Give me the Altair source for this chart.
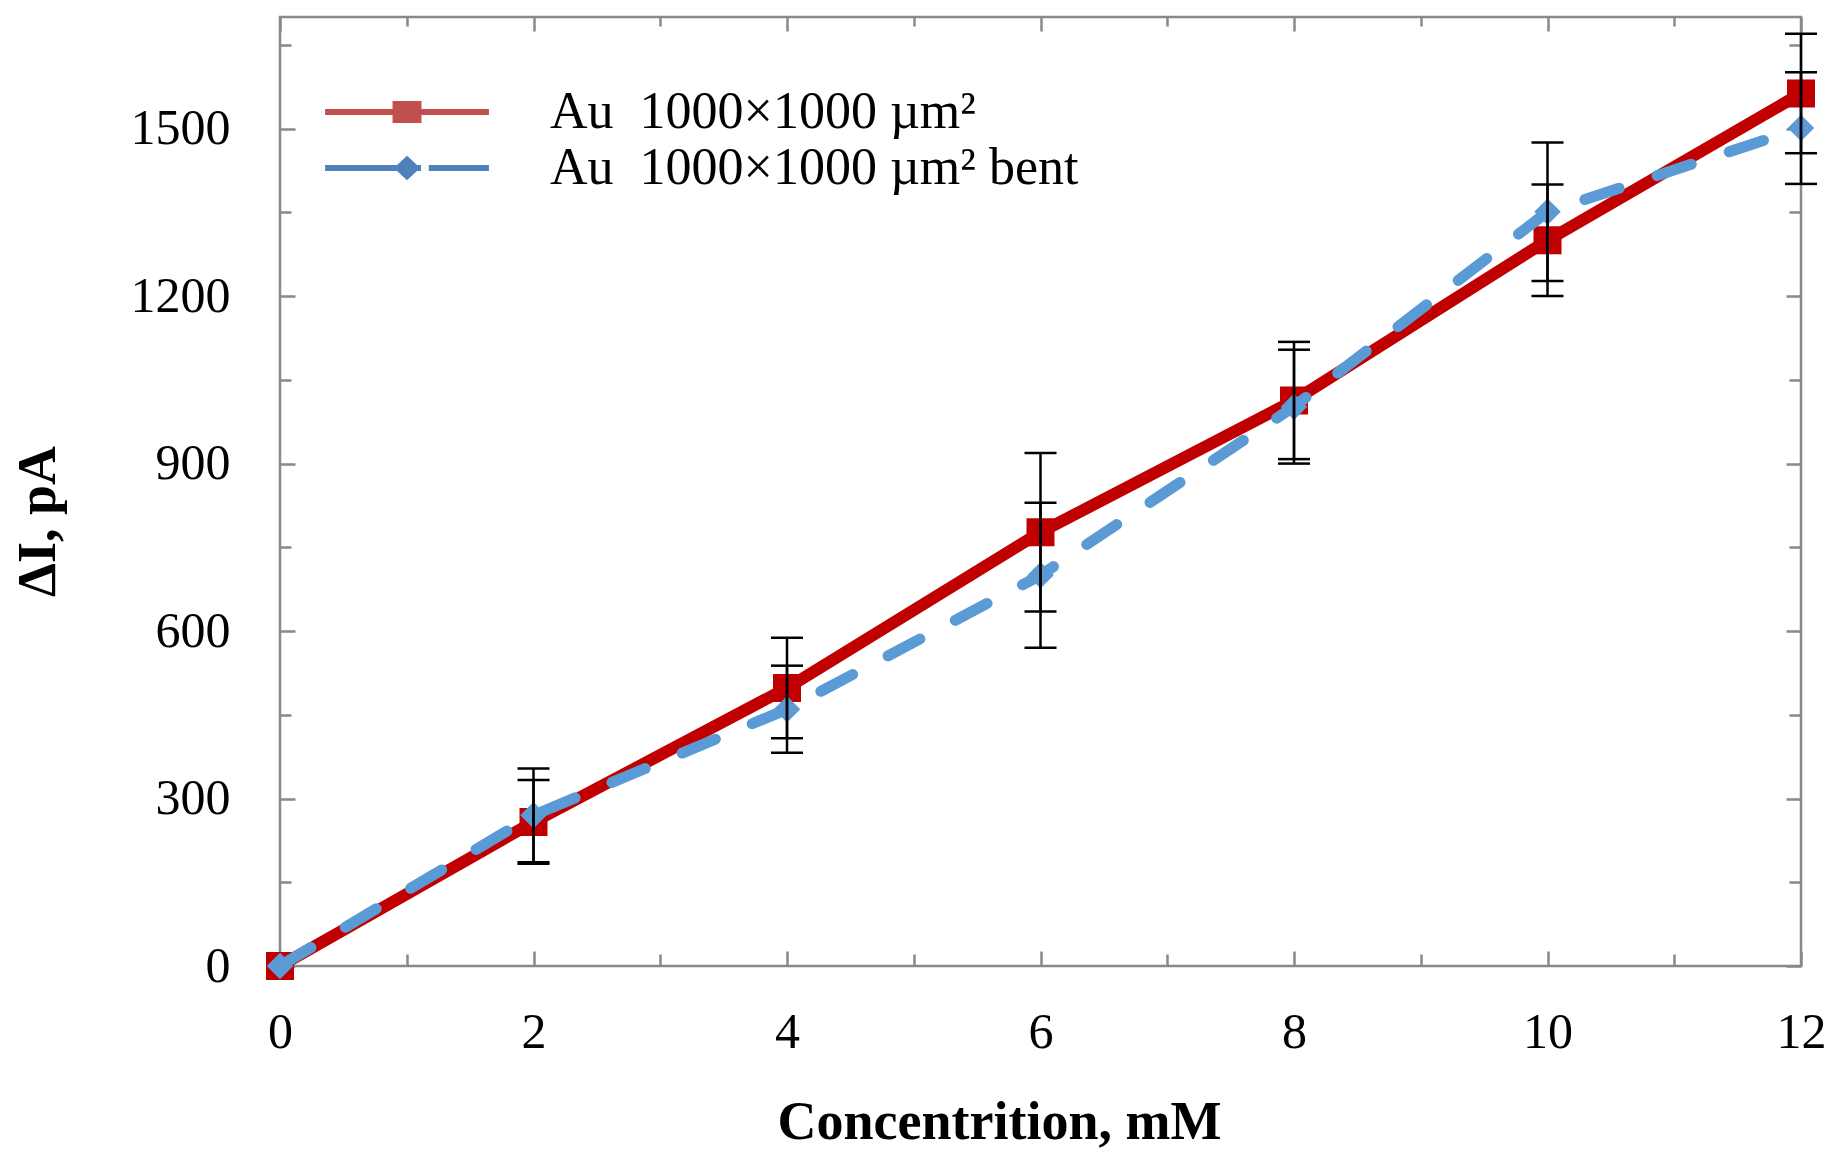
import pandas as pd
import altair as alt

# values
conc = [0, 2, 4, 6, 8, 10, 12]
au = [0, 258, 498, 777, 1013, 1300, 1563]
au_err = [0, 75, 90, 142, 105, 100, 107]
bent = [0, 270, 460, 700, 1002, 1351, 1501]
bent_err = [0, 84, 78, 130, 102, 124, 100]
series_names = ["Au\u00a0 1000\u00d71000 \u00b5m\u00b2",
                "Au\u00a0 1000\u00d71000 \u00b5m\u00b2 bent"]

x_major = [0, 2, 4, 6, 8, 10, 12]
x_minor = [1, 3, 5, 7, 9, 11]
y_major = [0, 300, 600, 900, 1200, 1500]
y_minor = [150, 450, 750, 1050, 1350, 1650]

FONT = "Liberation Serif"
GRAY = "#898989"
RED = "#C00000"
BLUE = "#5B9BD5"

au_df = pd.DataFrame({"conc": conc, "val": au, "err": au_err})
bent_df = pd.DataFrame({"conc": conc, "val": bent, "err": bent_err})
err_df = pd.concat([au_df, bent_df])
err_df = err_df[err_df["err"] > 0].copy()
err_df["lo"] = err_df["val"] - err_df["err"]
err_df["hi"] = err_df["val"] + err_df["err"]
caps_df = pd.concat([
    err_df[["conc", "lo"]].rename(columns={"lo": "y"}),
    err_df[["conc", "hi"]].rename(columns={"hi": "y"}),
])
leg_df = pd.DataFrame({"series": series_names})

x_scale = alt.Scale(domain=[0, 12], nice=False, zero=False)
y_scale = alt.Scale(domain=[0, 1700], nice=False)


def tick_axis(orient, values, size):
    # inward ticks: push the axis inside the frame and let ticks point back out
    return alt.Axis(orient=orient, values=values, labels=False, domain=False,
                    grid=False, ticks=True, tickSize=size, tickColor=GRAY,
                    tickWidth=2.5, offset=-size, title=None)


x_label_axis = alt.Axis(
    orient="bottom", values=x_major, format="d", grid=False, domain=False,
    ticks=False, tickSize=0, labelFont=FONT, labelFontSize=50,
    labelColor="black", labelPadding=81, labelBaseline="alphabetic",
    labelFlush=False, labelOverlap=False,
    title="Concentrition, mM", titleFont=FONT, titleFontSize=54,
    titleFontWeight="bold", titleColor="black", titleX=719, titleY=172,
    titleBaseline="alphabetic", titleAlign="center")

y_label_axis = alt.Axis(
    orient="left", values=y_major, format="d", grid=False, domain=False,
    ticks=False, tickSize=0, labelFont=FONT, labelFontSize=50,
    labelColor="black", labelPadding=50, labelFlush=False, labelOverlap=False,
    title="\u0394I, pA", titleFont=FONT, titleFontSize=54,
    titleFontWeight="bold", titleColor="black", titleX=-242, titleY=504,
    titleAngle=270, titleBaseline="middle", titleAlign="center")

red_line = alt.Chart(au_df).mark_line(color=RED, strokeWidth=12).encode(
    x=alt.X("conc:Q", scale=x_scale, axis=x_label_axis),
    y=alt.Y("val:Q", scale=y_scale, axis=y_label_axis),
)

red_pts = alt.Chart(au_df).mark_square(size=784, color=RED, opacity=1).encode(
    x=alt.X("conc:Q", scale=x_scale, axis=tick_axis("bottom", x_major, 15)),
    y=alt.Y("val:Q", scale=y_scale, axis=tick_axis("left", y_major, 15)),
)

blue_line = alt.Chart(bent_df).mark_line(
    color=BLUE, strokeWidth=11, strokeDash=[36, 40], strokeCap="round"
).encode(
    x=alt.X("conc:Q", scale=x_scale, axis=tick_axis("bottom", x_minor, 12)),
    y=alt.Y("val:Q", scale=y_scale, axis=tick_axis("left", y_minor, 11)),
)

blue_pts = alt.Chart(bent_df).mark_point(
    shape="diamond", filled=True, size=700, color=BLUE, opacity=1
).encode(
    x=alt.X("conc:Q", scale=x_scale, axis=tick_axis("top", x_major, 14)),
    y=alt.Y("val:Q", scale=y_scale, axis=tick_axis("right", y_major, 15)),
)

err_rules = alt.Chart(err_df).mark_rule(color="black", strokeWidth=2.5).encode(
    x=alt.X("conc:Q", scale=x_scale, axis=tick_axis("top", x_minor, 9)),
    y=alt.Y("lo:Q", scale=y_scale, axis=tick_axis("right", y_minor, 12)),
    y2="hi:Q",
)

err_caps = alt.Chart(caps_df).mark_tick(
    color="black", thickness=2.5, size=32, orient="horizontal", opacity=1
).encode(
    x=alt.X("conc:Q", scale=x_scale, axis=None),
    y=alt.Y("y:Q", scale=y_scale, axis=None),
)

# legend symbols: line + marker drawn as one custom path
path_red = "M-4.5,0H4.5M-0.63,-0.44H0.63V0.44H-0.63Z"
path_blue = "M-4.5,0H0.77M1.2,0H4.5M0,-0.45L0.48,0L0,0.45L-0.48,0Z"
leg = alt.Legend(
    title=None, orient="none", legendX=101, legendY=69, padding=0,
    symbolSize=1326, symbolStrokeWidth=6, symbolOpacity=1,
    labelFont=FONT, labelFontSize=52, labelColor="black", labelOffset=117,
    labelLimit=2000, rowPadding=4)
leg_colors = alt.Scale(domain=series_names, range=["#C0504D", "#4F81BD"])

legend_layer = alt.Chart(leg_df).transform_filter("false").mark_point(
    filled=True, size=1326, opacity=1, strokeWidth=6
).encode(
    shape=alt.Shape("series:N", scale=alt.Scale(domain=series_names,
                                                range=[path_red, path_blue]),
                    legend=leg),
    fill=alt.Fill("series:N", scale=leg_colors, legend=leg),
    stroke=alt.Stroke("series:N", scale=leg_colors, legend=leg),
)

chart = alt.layer(
    red_line, red_pts, blue_line, blue_pts, err_rules, err_caps, legend_layer
).resolve_axis(
    x="independent", y="independent"
).properties(
    width=1521, height=949,
    autosize=alt.AutoSizeParams(type="none"),
    padding={"left": 272, "top": 9, "right": 33, "bottom": 192},
    background="white",
).configure_view(
    stroke=GRAY, strokeWidth=2.5
)

chart.save("out.html", embed_options={"renderer": "svg", "actions": False})
